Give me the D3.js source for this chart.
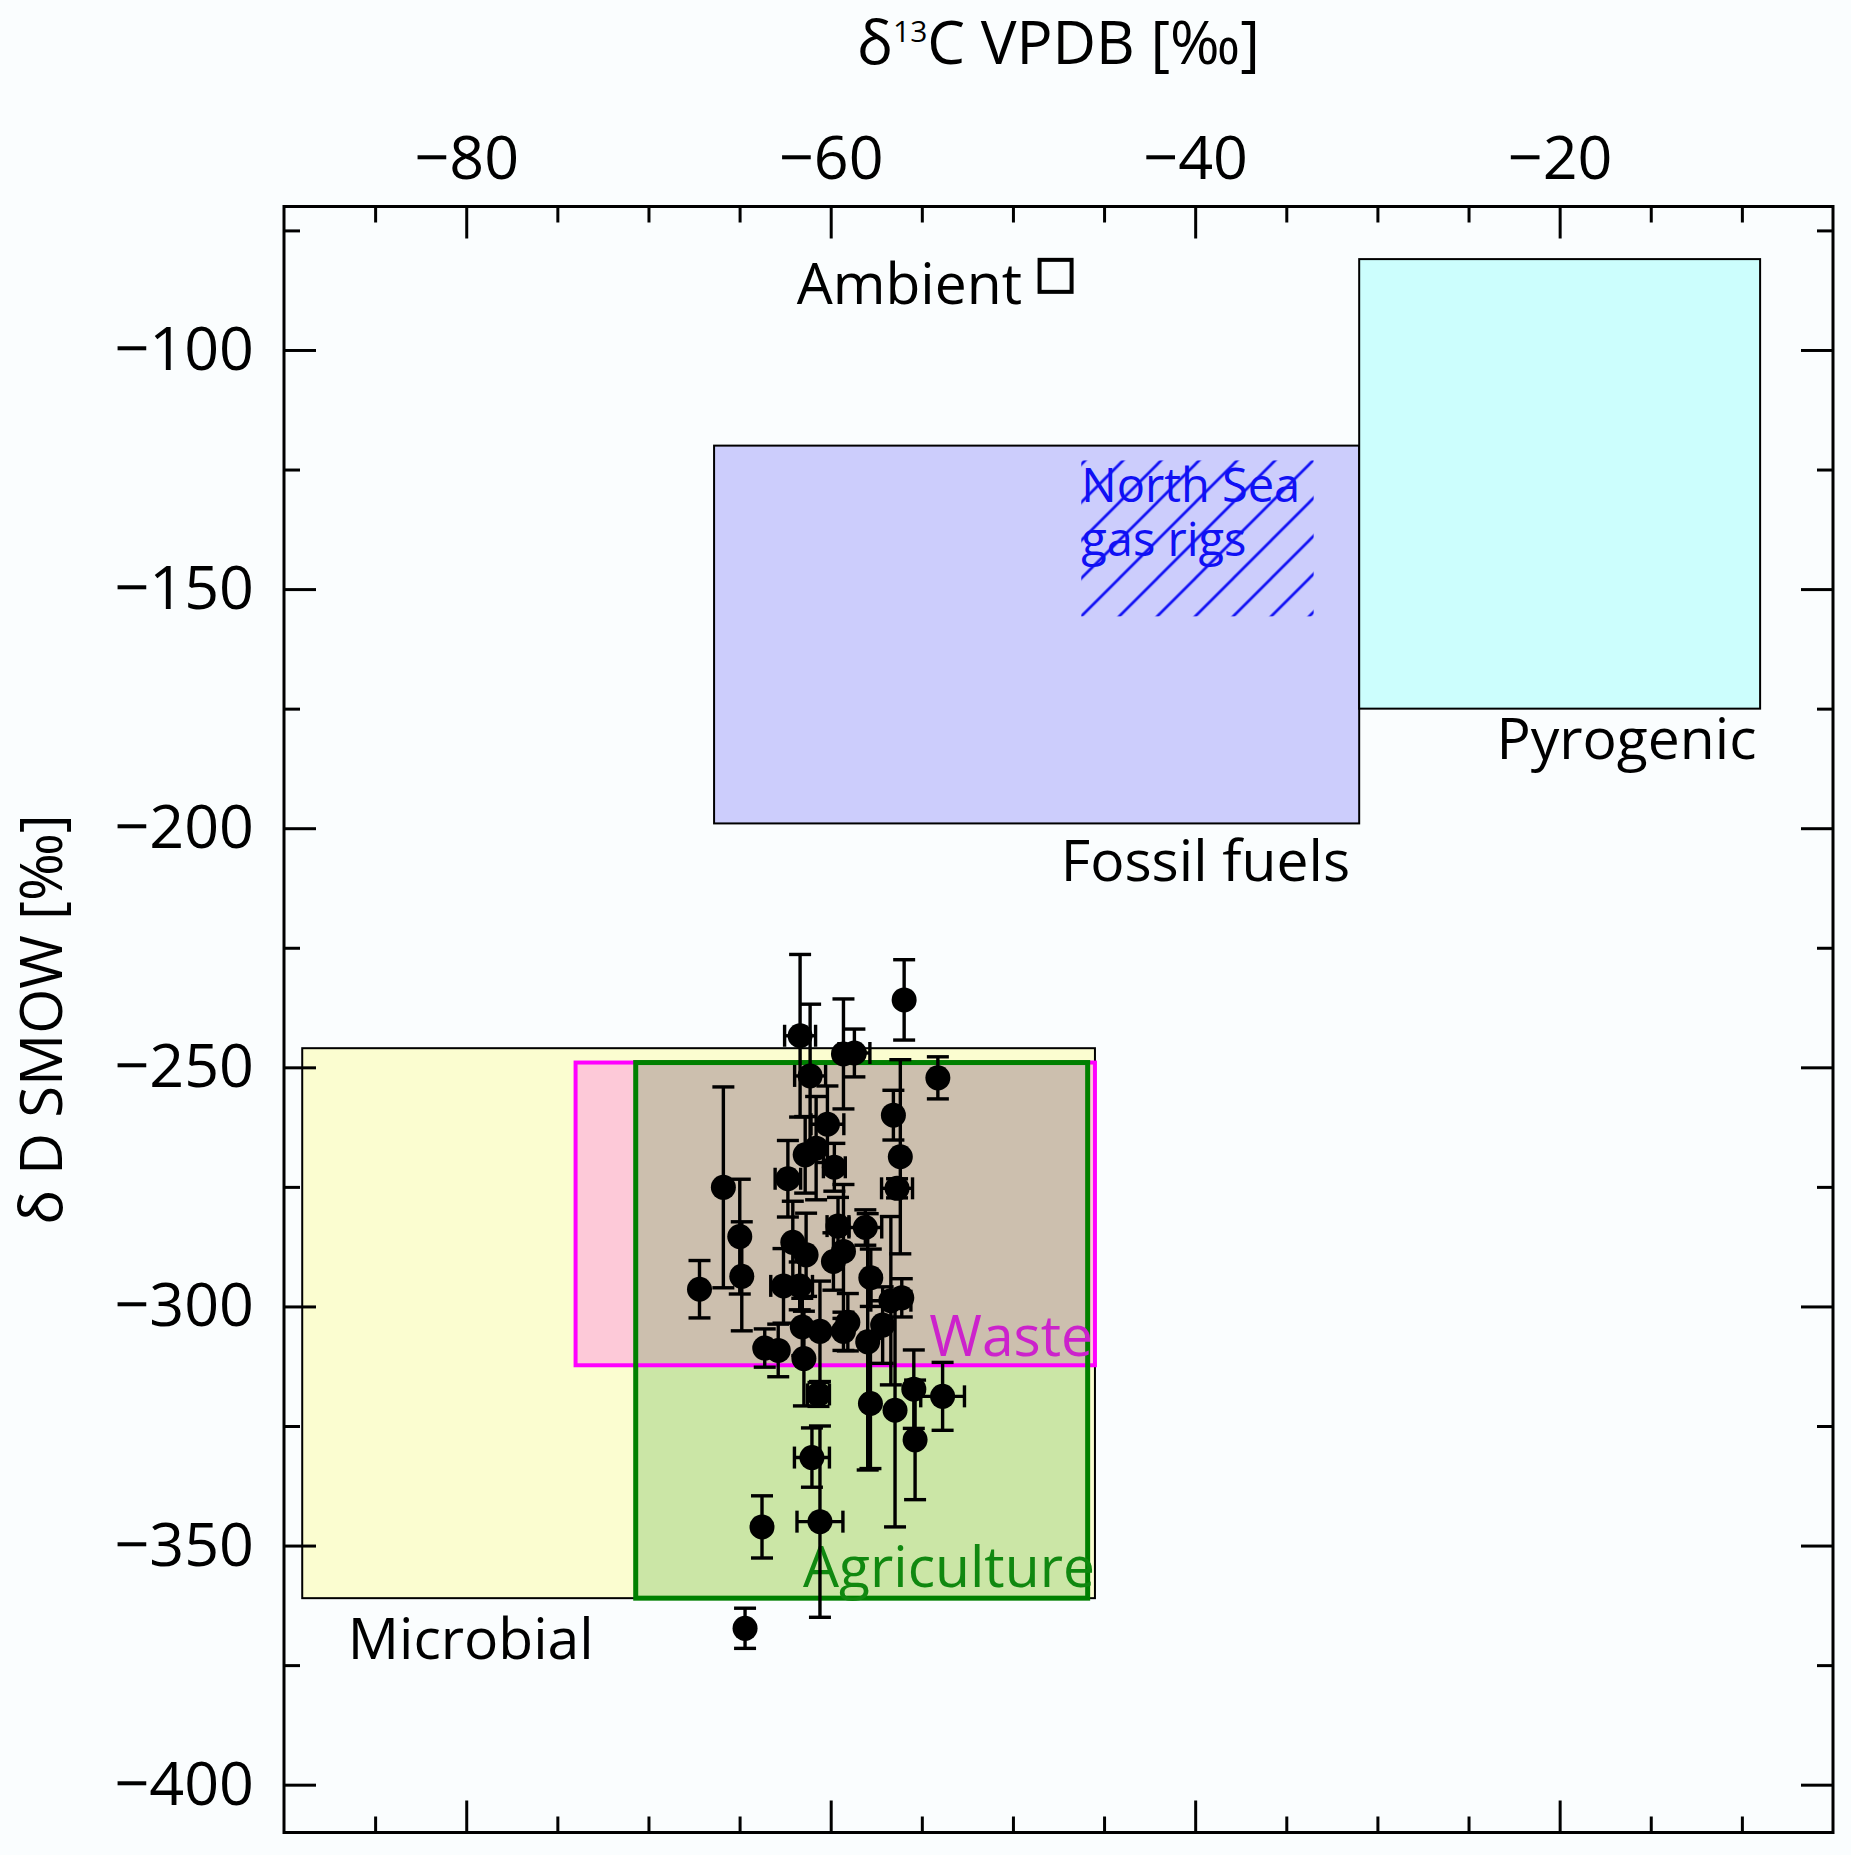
<!DOCTYPE html>
<html>
<head>
<meta charset="utf-8">
<script src="https://cdn.jsdelivr.net/npm/d3@7"></script>
<style>
  html, body { margin: 0; padding: 0; background: #fafdfe; }
  svg { display: block; font-family: "Open Sans", sans-serif; }
</style>
</head>
<body>
<div id="chart-area"></div>
<script>
// Tick values
var xMajorTicks = [-80, -60, -40, -20];
var xMinorTicks = [-85, -75, -70, -65, -55, -50, -45, -35, -30, -25, -15, -10];
var yMajorTicks = [-400, -350, -300, -250, -200, -150, -100];
var yMinorTicks = [-375, -325, -275, -225, -175, -125, -75];

// Source signatures (d13C range, dD range)
var sourceNames = ["Microbial", "Waste", "Agriculture", "Fossil fuels", "Pyrogenic"];
var sourceD13C = [[-89, -45.5], [-74, -45.5], [-70.7, -45.9], [-66.4, -31], [-31, -9]];
var sourceDD = [[-361, -246], [-312.3, -249], [-361, -249], [-199, -120], [-175, -81]];

// North Sea gas rigs (hatched)
var northSeaD13C = [-46.25, -33.5];
var northSeaDD = [-155.7, -123.1];

// Ambient
var ambientD13C = -47.66;
var ambientDD = -84.5;

// Samples
var sampleD13C = [-55.97, -61.68, -59.3, -58.7, -54.12, -61.13, -56.56, -60.18, -56.18, -56.36,
                  -65.89, -62.35, -61.4, -60.8, -59.8, -64.99, -59.6, -58.1, -62.08, -61.35,
                  -59.3, -59.85, -64.88, -67.2, -57.8, -62.59, -61.7, -56.7, -56.1, -61.56,
                  -60.59, -59.06, -59.3, -57.15, -57.97, -63.62, -62.88, -61.47, -60.67, -55.44,
                  -53.86, -57.82, -56.47, -55.37, -61.03, -63.77, -60.59, -64.7];
var sampleDD = [-235.9, -243.4, -247.2, -247.0, -252.2, -251.8, -260.0, -261.9, -268.7, -275.3,
                -275.1, -273.3, -268.3, -266.9, -270.9, -285.4, -283.2, -283.5, -286.6, -289.2,
                -288.5, -290.6, -293.7, -296.4, -294.0, -295.7, -295.7, -298.8, -298.2, -304.3,
                -305.2, -303.3, -305.2, -303.9, -307.4, -308.7, -309.2, -310.9, -318.4, -317.3,
                -318.8, -320.3, -321.7, -327.9, -331.6, -346.1, -345.0, -367.3];
var sampleErrD13C = [0, 0.85, 0, 0.85, 0, 0.85, 0, 0.9, 0, 0.85,
                     0, 0.7, 0, 0, 0.6, 0, 0.6, 0.9, 0, 0,
                     0, 0, 0, 0, 0, 0.7, 0.7, 1.1, 0, 0,
                     0, 0, 0, 0, 0, 0, 0, 0, 0.6, 0,
                     1.2, 0, 0, 0, 0.96, 0, 1.26, 0];
var sampleErrDD = [8.4, 17, 11.5, 5, 4.4, 15, 5.2, 8, 20.3, 2,
                   21, 8, 8, 10.8, 5, 12, 6, 3.7, 8.6, 8.7,
                   14, 6, 11.4, 6, 6, 7.8, 5, 17.6, 4, 6,
                   10.5, 6, 4, 8, 26.8, 4, 5.5, 9.9, 2.5, 8.2,
                   7.1, 13.6, 24.4, 12.5, 6.2, 6.5, 20, 4.2];

// Layout
var margin = { top: 206.5, right: 18, bottom: 22.5, left: 284 },
    width = 1851 - margin.left - margin.right,
    height = 1855 - margin.top - margin.bottom;

var boxStyle = {
    "Microbial":    { fill: "#fbfdd0", stroke: "#000000", sw: 2 },
    "Waste":        { fill: "#fdc9d8", stroke: "#ff00ff", sw: 4 },
    "Agriculture":  { fill: "#cbe6a6", stroke: "#008000", sw: 5 },
    "Fossil fuels": { fill: "#cccdfc", stroke: "#000000", sw: 2 },
    "Pyrogenic":    { fill: "#ccfefd", stroke: "#000000", sw: 2 }
};
var overlapFill = "#ccbfae";

var labels = [
    { text: "Ambient",      x: -49.5, y: -90.3,  anchor: "end",   color: "#000000" },
    { text: "Fossil fuels", x: -31.5, y: -211,   anchor: "end",   color: "#000000" },
    { text: "Pyrogenic",    x: -9.2,  y: -185.5, anchor: "end",   color: "#000000" },
    { text: "Microbial",    x: -86.5, y: -373.8, anchor: "start", color: "#000000" },
    { text: "Waste",        x: -45.6, y: -310.3, anchor: "end",   color: "#cc22cc" },
    { text: "Agriculture",  x: -45.5, y: -358.6, anchor: "end",   color: "#108810" }
];

var svgRoot = d3.select("#chart-area")
    .append("svg")
    .attr("width", width + margin.left + margin.right)
    .attr("height", height + margin.top + margin.bottom);

svgRoot.append("rect")
    .attr("width", width + margin.left + margin.right)
    .attr("height", height + margin.top + margin.bottom)
    .attr("fill", "#fafdfe");

var svg = svgRoot.append("g")
    .attr("transform", "translate(" + margin.left + "," + margin.top + ")");

var x = d3.scaleLinear().domain([-90, -5]).range([0, width]);
var y = d3.scaleLinear().domain([-410, -70]).range([height, 0]);

// Hatch pattern for North Sea gas rigs
var hx = x(northSeaD13C[0]), hy = y(northSeaDD[0]);
var defs = svg.append("defs");
var pat = defs.append("pattern")
    .attr("id", "hatch")
    .attr("patternUnits", "userSpaceOnUse")
    .attr("x", hx)
    .attr("y", hy - 38)
    .attr("width", 38)
    .attr("height", 38);
pat.append("path")
    .attr("d", "M0,38 L38,0 M-10,10 L10,-10 M28,48 L48,28")
    .attr("stroke", "#1010f4")
    .attr("stroke-width", 2.7);

function boxRect(i) {
    return {
        x: x(sourceD13C[i][0]),
        y: y(sourceDD[i][1]),
        w: x(sourceD13C[i][1]) - x(sourceD13C[i][0]),
        h: y(sourceDD[i][0]) - y(sourceDD[i][1])
    };
}

var boxes = svg.append("g").attr("class", "boxes");

// fills of the lower group
[0, 1, 2].forEach(function(i) {
    var r = boxRect(i);
    boxes.append("rect")
        .attr("x", r.x).attr("y", r.y).attr("width", r.w).attr("height", r.h)
        .attr("fill", boxStyle[sourceNames[i]].fill);
});

// overlap of Waste and Agriculture
var ox0 = Math.max(sourceD13C[1][0], sourceD13C[2][0]),
    ox1 = Math.min(sourceD13C[1][1], sourceD13C[2][1]),
    oy0 = Math.max(sourceDD[1][0], sourceDD[2][0]),
    oy1 = Math.min(sourceDD[1][1], sourceDD[2][1]);
boxes.append("rect")
    .attr("x", x(ox0)).attr("y", y(oy1))
    .attr("width", x(ox1) - x(ox0)).attr("height", y(oy0) - y(oy1))
    .attr("fill", overlapFill);

// outlines
[0, 1, 2].forEach(function(i) {
    var r = boxRect(i), s = boxStyle[sourceNames[i]];
    boxes.append("rect")
        .attr("x", r.x).attr("y", r.y).attr("width", r.w).attr("height", r.h)
        .attr("fill", "none")
        .attr("stroke", s.stroke)
        .attr("stroke-width", s.sw);
});

[3, 4].forEach(function(i) {
    var r = boxRect(i), s = boxStyle[sourceNames[i]];
    boxes.append("rect")
        .attr("x", r.x).attr("y", r.y).attr("width", r.w).attr("height", r.h)
        .attr("fill", s.fill)
        .attr("stroke", s.stroke)
        .attr("stroke-width", s.sw);
});

// hatched area
boxes.append("rect")
    .attr("x", x(northSeaD13C[0]))
    .attr("y", y(northSeaDD[1]))
    .attr("width", x(northSeaD13C[1]) - x(northSeaD13C[0]))
    .attr("height", y(northSeaDD[0]) - y(northSeaDD[1]))
    .attr("fill", "url(#hatch)");

// North Sea label, two lines
svg.append("text")
    .attr("x", x(northSeaD13C[0]))
    .attr("y", y(-131.7))
    .attr("fill", "#1010f4")
    .style("font-size", "47px")
    .text("North Sea");
svg.append("text")
    .attr("x", x(northSeaD13C[0]))
    .attr("y", y(-131.7) + 54)
    .attr("fill", "#1010f4")
    .style("font-size", "47px")
    .text("gas rigs");

// Ambient square
svg.append("rect")
    .attr("x", x(ambientD13C) - 16)
    .attr("y", y(ambientDD) - 16)
    .attr("width", 32)
    .attr("height", 32)
    .attr("fill", "none")
    .attr("stroke", "#000")
    .attr("stroke-width", 4);

// Source labels
svg.selectAll(".src-label")
    .data(labels)
    .enter().append("text")
    .attr("class", "src-label")
    .attr("x", function(d) { return x(d.x); })
    .attr("y", function(d) { return y(d.y); })
    .attr("text-anchor", function(d) { return d.anchor; })
    .attr("fill", function(d) { return d.color; })
    .style("font-size", "57px")
    .text(function(d) { return d.text; });

// Samples with error bars
var cap = 11;
var pts = svg.append("g").attr("class", "samples")
    .attr("stroke", "#000").attr("stroke-width", 3.4);

sampleD13C.forEach(function(cx, i) {
    var cy = sampleDD[i], ex = sampleErrD13C[i], ey = sampleErrDD[i];
    if (ey > 0) {
        var y0 = y(cy - ey), y1 = y(cy + ey);
        pts.append("line").attr("x1", x(cx)).attr("x2", x(cx)).attr("y1", y0).attr("y2", y1);
        pts.append("line").attr("x1", x(cx) - cap).attr("x2", x(cx) + cap).attr("y1", y0).attr("y2", y0);
        pts.append("line").attr("x1", x(cx) - cap).attr("x2", x(cx) + cap).attr("y1", y1).attr("y2", y1);
    }
    if (ex > 0) {
        var x0 = x(cx - ex), x1 = x(cx + ex);
        pts.append("line").attr("x1", x0).attr("x2", x1).attr("y1", y(cy)).attr("y2", y(cy));
        pts.append("line").attr("x1", x0).attr("x2", x0).attr("y1", y(cy) - cap).attr("y2", y(cy) + cap);
        pts.append("line").attr("x1", x1).attr("x2", x1).attr("y1", y(cy) - cap).attr("y2", y(cy) + cap);
    }
});

svg.append("g").selectAll("circle")
    .data(sampleD13C)
    .enter().append("circle")
    .attr("cx", function(d) { return x(d); })
    .attr("cy", function(d, i) { return y(sampleDD[i]); })
    .attr("r", 12.5)
    .attr("fill", "#000");

// Axes (ticks inward on all sides)
function styleAxis(g) {
    g.select(".domain").remove();
    g.selectAll(".tick line").attr("stroke", "#000").attr("stroke-width", 3);
    g.selectAll(".tick text")
        .attr("fill", "#000")
        .style("font-size", "61px")
        .style("font-family", "'Open Sans', sans-serif");
}

var minus = function(d) { return d < 0 ? "\u2212" + Math.abs(d) : d; };

svg.append("g")
    .call(d3.axisTop(x).tickValues(xMajorTicks).tickSize(-32).tickPadding(28).tickFormat(minus))
    .call(styleAxis);
svg.append("g")
    .call(d3.axisTop(x).tickValues(xMinorTicks).tickSize(-16).tickFormat(""))
    .call(styleAxis);
svg.append("g")
    .attr("transform", "translate(0," + height + ")")
    .call(d3.axisBottom(x).tickValues(xMajorTicks).tickSize(-32).tickFormat(""))
    .call(styleAxis);
svg.append("g")
    .attr("transform", "translate(0," + height + ")")
    .call(d3.axisBottom(x).tickValues(xMinorTicks).tickSize(-16).tickFormat(""))
    .call(styleAxis);

svg.append("g")
    .call(d3.axisLeft(y).tickValues(yMajorTicks).tickSize(-32).tickPadding(30).tickFormat(minus))
    .call(styleAxis);
svg.append("g")
    .call(d3.axisLeft(y).tickValues(yMinorTicks).tickSize(-16).tickFormat(""))
    .call(styleAxis);
svg.append("g")
    .attr("transform", "translate(" + width + ",0)")
    .call(d3.axisRight(y).tickValues(yMajorTicks).tickSize(-32).tickFormat(""))
    .call(styleAxis);
svg.append("g")
    .attr("transform", "translate(" + width + ",0)")
    .call(d3.axisRight(y).tickValues(yMinorTicks).tickSize(-16).tickFormat(""))
    .call(styleAxis);

// Frame
svg.append("rect")
    .attr("width", width)
    .attr("height", height)
    .attr("fill", "none")
    .attr("stroke", "#000")
    .attr("stroke-width", 3);

// Axis titles
var title = svg.append("text")
    .attr("x", width / 2)
    .attr("y", 64 - margin.top)
    .attr("text-anchor", "middle")
    .attr("fill", "#000")
    .style("font-size", "60px");
title.append("tspan").text("\u03b4");
title.append("tspan").attr("dy", -22).style("font-size", "30px").text("13");
title.append("tspan").attr("dy", 22).text("C VPDB [\u2030]");

svg.append("text")
    .attr("transform", "translate(" + (62 - margin.left) + "," + (height / 2) + ") rotate(-90)")
    .attr("text-anchor", "middle")
    .attr("fill", "#000")
    .style("font-size", "58px")
    .text("\u03b4 D SMOW [\u2030]");
</script>
</body>
</html>
